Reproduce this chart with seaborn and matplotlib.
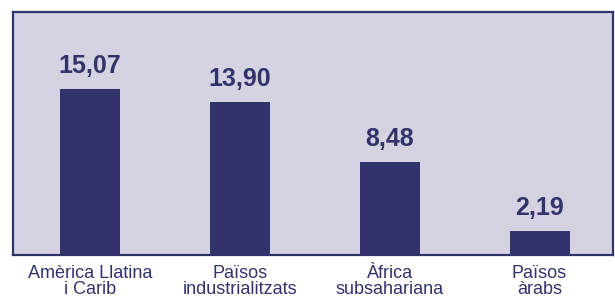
import matplotlib
matplotlib.use("Agg")
import matplotlib.pyplot as plt
import seaborn as sns
import pandas as pd

categories = ["Amèrica Llatina\ni Carib", "Països\nindustrialitzats", "Àfrica\nsubsahariana", "Països\nàrabs"]
values = [15.07, 13.90, 8.48, 2.19]
value_labels = ["15,07", "13,90", "8,48", "2,19"]

bar_color = "#33336b"
bg_color = "#d5d3e2"
text_color = "#33336b"

sns.set_theme(style="white")
plt.rcParams["font.family"] = ["Liberation Sans", "DejaVu Sans"]

df = pd.DataFrame({"cat": categories, "val": values})

fig = plt.figure(figsize=(6.15, 2.98), dpi=100)
ax = fig.add_axes([13 / 615, 43 / 298, 600 / 615, 243 / 298])
ax.set_facecolor(bg_color)

sns.barplot(data=df, x="cat", y="val", color=bar_color, width=0.4,
            saturation=1, linewidth=0, edgecolor=bar_color, ax=ax)

for i, (v, lab) in enumerate(zip(values, value_labels)):
    ax.annotate(lab, (i, v), xytext=(0, 11.5), textcoords="offset points",
                ha="center", va="baseline", fontsize=18, fontweight="bold",
                color=text_color)

ax.set_xlim(-0.513, 3.49)
ax.set_ylim(0, 22.1)
ax.set_yticks([])
ax.set_xlabel("")
ax.set_ylabel("")
ax.tick_params(axis="x", length=0, pad=7.5, labelsize=13, labelcolor=text_color)
for lbl in ax.get_xticklabels():
    lbl.set_linespacing(0.9)
for s in ax.spines.values():
    s.set_visible(True)
    s.set_color(text_color)
    s.set_linewidth(1.6)

fig.savefig("out.png", dpi=100)
